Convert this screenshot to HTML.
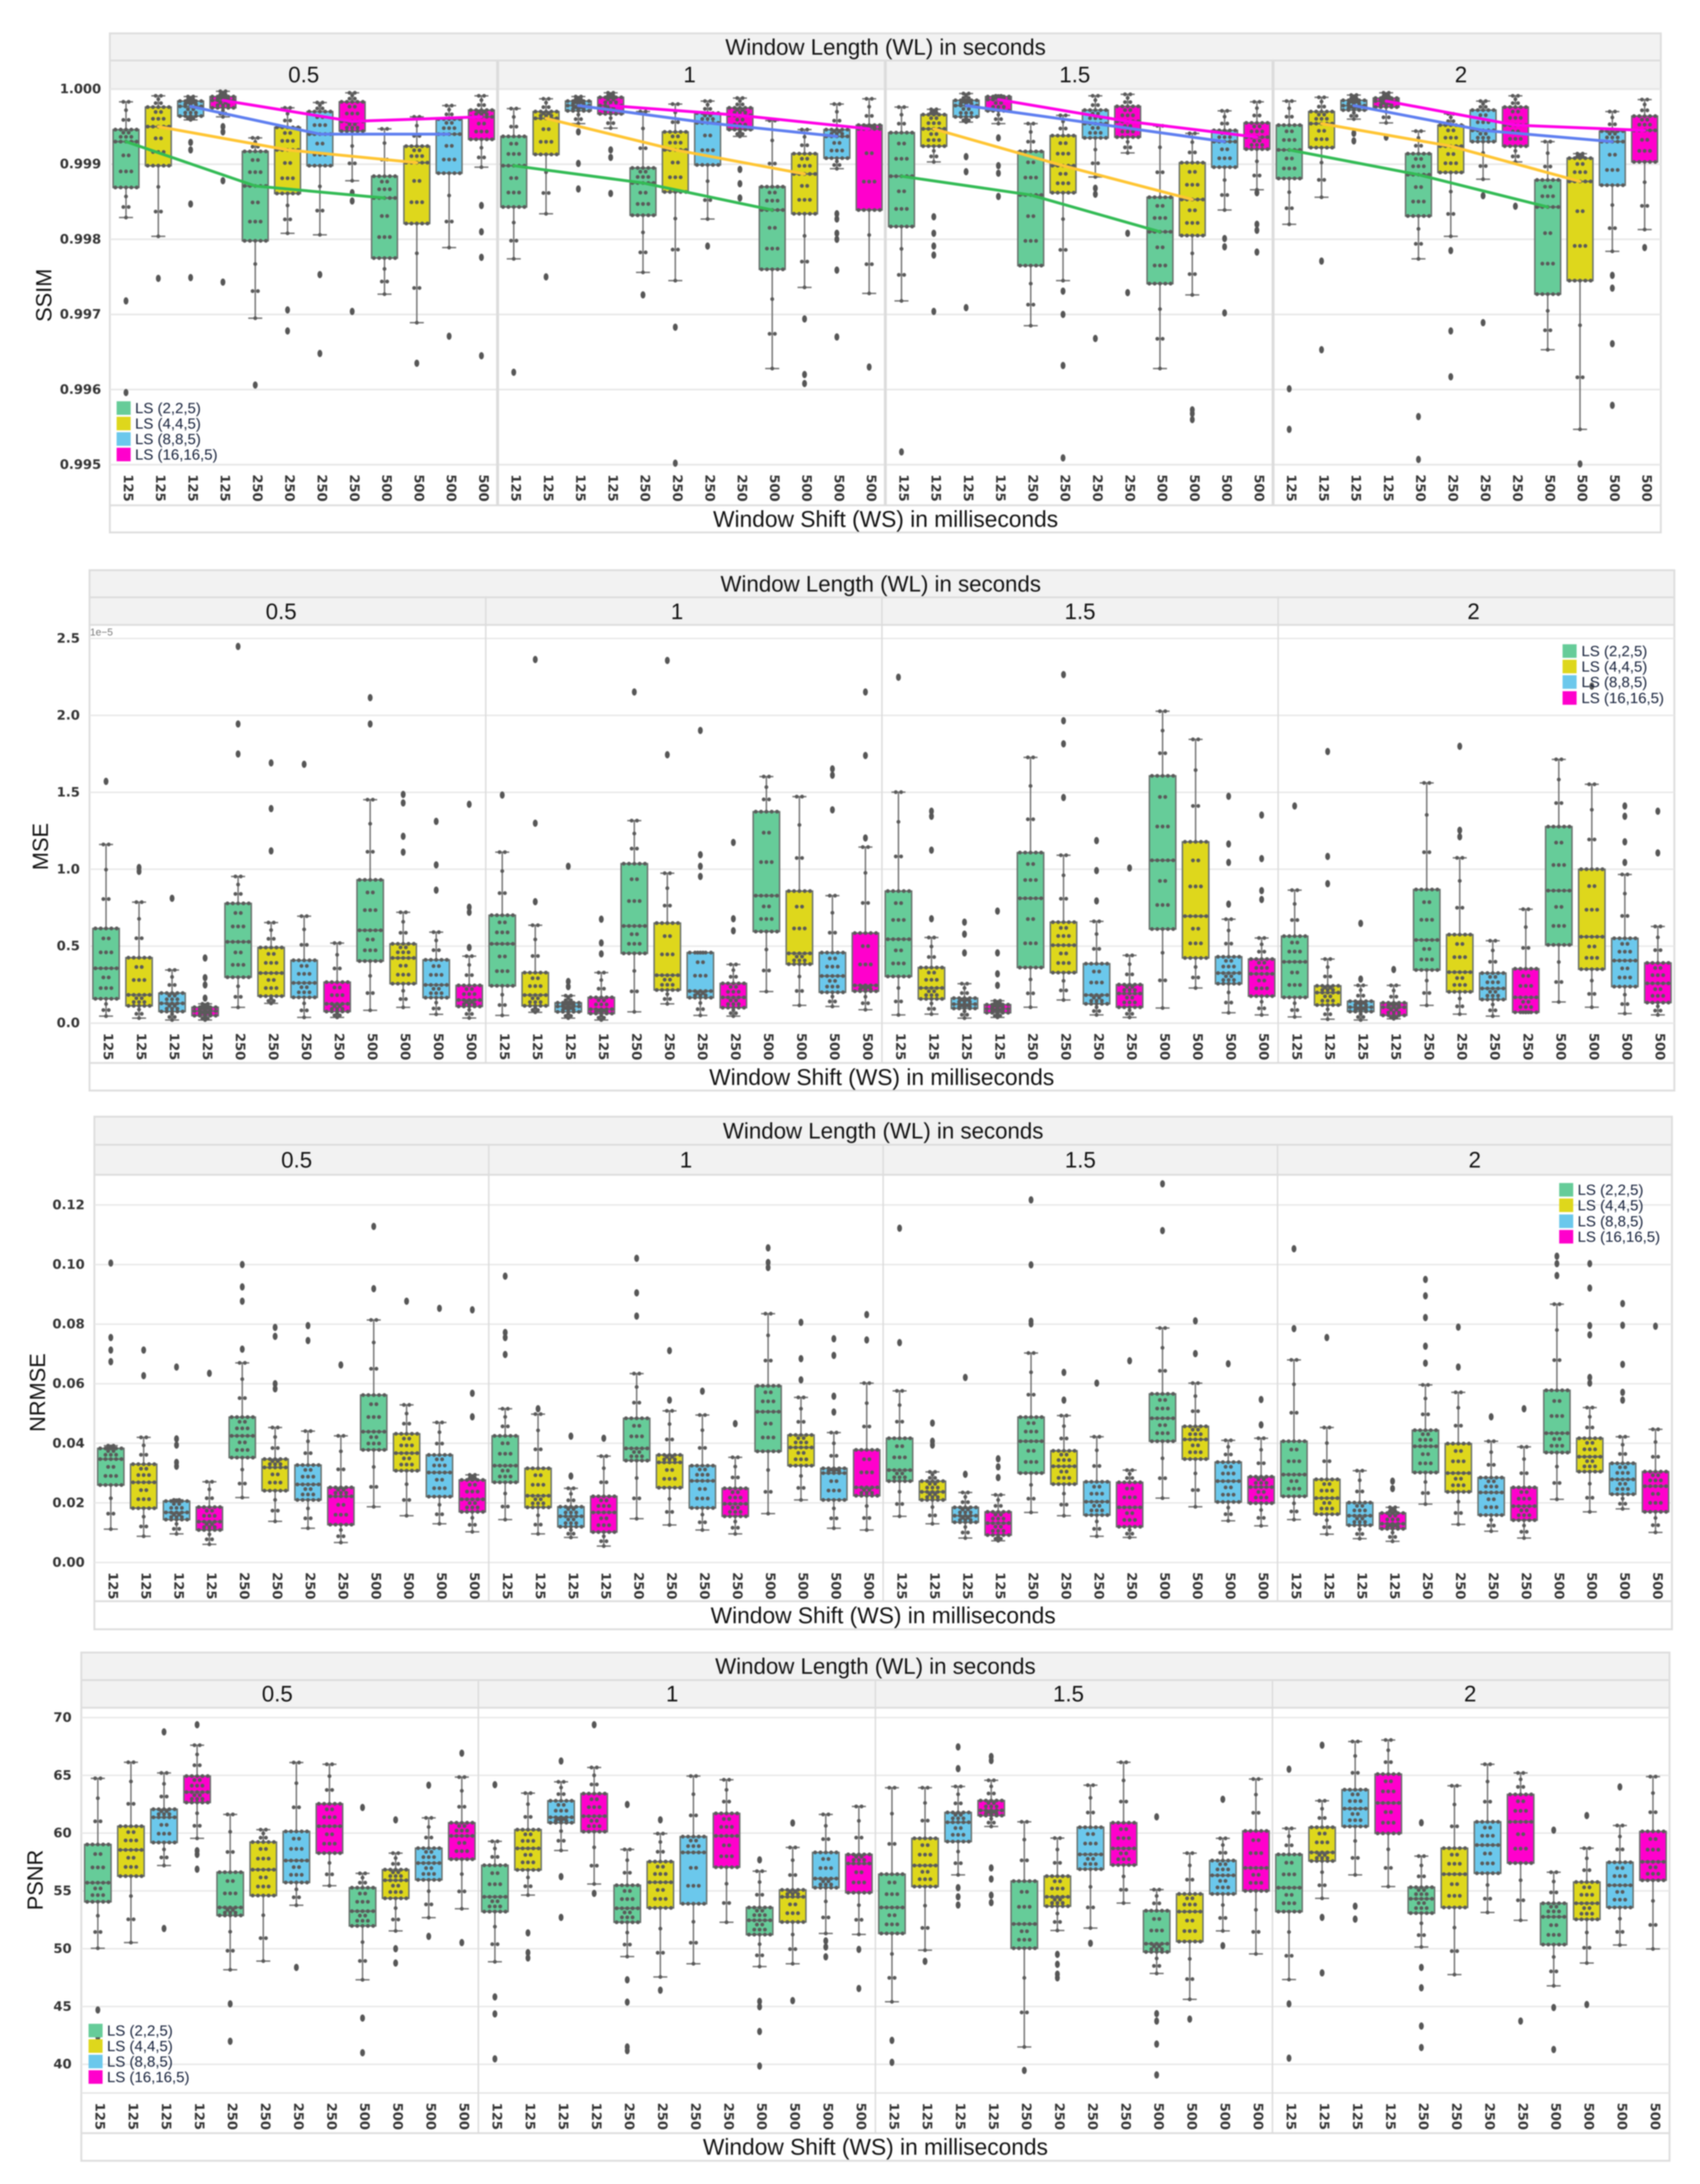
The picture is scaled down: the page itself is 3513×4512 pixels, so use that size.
<!DOCTYPE html>
<html lang="en">
<head>
<meta charset="utf-8">
<title>SSIM, MSE, NRMSE and PSNR box plots by window length and window shift</title>
<style>
html,body{margin:0;padding:0;background:#fff;}
#figure{display:block;width:3513px;height:4512px;filter:blur(1.3px);}
.strip{font:46px "Liberation Sans",sans-serif;fill:#111;text-anchor:middle;dominant-baseline:central;}
.shift{font:47px "Liberation Sans",sans-serif;fill:#111;text-anchor:middle;dominant-baseline:central;}
.ytitle{font:45px "Liberation Sans",sans-serif;fill:#111;text-anchor:middle;}
.legend{font:31px "Liberation Sans",sans-serif;fill:#15203a;dominant-baseline:central;}
.tick{font:bold 27px "DejaVu Sans",sans-serif;fill:#333;}
</style>
</head>
<body>
<svg id="figure" xmlns="http://www.w3.org/2000/svg" width="3513" height="4512" viewBox="0 0 3513 4512">
<rect x="0" y="0" width="3513" height="4512" fill="#fff"/>

<g id="ssim-plot"></g>
<g>
<text class="strip" x="1830" y="97">Window Length (WL) in seconds</text>
<text class="strip" x="627.6" y="154">0.5</text>
<text class="strip" x="1425" y="154">1</text>
<text class="strip" x="2221" y="154">1.5</text>
<text class="strip" x="3019" y="154">2</text>
<text class="shift" x="1830" y="1072">Window Shift (WS) in milliseconds</text>
<text class="ytitle" transform="translate(106,610) rotate(-90)">SSIM</text>
<g>
<rect x="241" y="829" width="29" height="28" fill="#66CC99"/><text class="legend" x="279" y="843">LS (2,2,5)</text>
<rect x="241" y="861" width="29" height="28" fill="#DED71C"/><text class="legend" x="279" y="875">LS (4,4,5)</text>
<rect x="241" y="893" width="29" height="28" fill="#6BC8EC"/><text class="legend" x="279" y="907">LS (8,8,5)</text>
<rect x="241" y="925" width="29" height="28" fill="#FF00CC"/><text class="legend" x="279" y="939">LS (16,16,5)</text>
</g>
</g>

<g id="mse-plot"></g>
<g>
<text class="strip" x="1820" y="1206">Window Length (WL) in seconds</text>
<text class="strip" x="581" y="1263">0.5</text>
<text class="strip" x="1399" y="1263">1</text>
<text class="strip" x="2231.9" y="1263">1.5</text>
<text class="strip" x="3045" y="1263">2</text>
<text class="shift" x="1822" y="2225">Window Shift (WS) in milliseconds</text>
<text class="ytitle" transform="translate(99,1749) rotate(-90)">MSE</text>
<text x="186" y="1313" font-family="Liberation Sans, sans-serif" font-size="21" fill="#777">1e−5</text>
<g>
<rect x="3229" y="1331" width="29" height="28" fill="#66CC99"/><text class="legend" x="3268" y="1345">LS (2,2,5)</text>
<rect x="3229" y="1363" width="29" height="28" fill="#DED71C"/><text class="legend" x="3268" y="1377">LS (4,4,5)</text>
<rect x="3229" y="1395" width="29" height="28" fill="#6BC8EC"/><text class="legend" x="3268" y="1409">LS (8,8,5)</text>
<rect x="3229" y="1428" width="29" height="28" fill="#FF00CC"/><text class="legend" x="3268" y="1442">LS (16,16,5)</text>
</g>
</g>

<g id="nrmse-plot"></g>
<g>
<text class="strip" x="1825" y="2336">Window Length (WL) in seconds</text>
<text class="strip" x="613" y="2396">0.5</text>
<text class="strip" x="1417.5" y="2396">1</text>
<text class="strip" x="2232.5" y="2396">1.5</text>
<text class="strip" x="3047.5" y="2396">2</text>
<text class="shift" x="1825" y="3337">Window Shift (WS) in milliseconds</text>
<text class="ytitle" transform="translate(93,2877) rotate(-90)">NRMSE</text>
<g>
<rect x="3222" y="2444" width="29" height="28" fill="#66CC99"/><text class="legend" x="3260" y="2458">LS (2,2,5)</text>
<rect x="3222" y="2476" width="29" height="28" fill="#DED71C"/><text class="legend" x="3260" y="2490">LS (4,4,5)</text>
<rect x="3222" y="2509" width="29" height="28" fill="#6BC8EC"/><text class="legend" x="3260" y="2523">LS (8,8,5)</text>
<rect x="3222" y="2541" width="29" height="28" fill="#FF00CC"/><text class="legend" x="3260" y="2555">LS (16,16,5)</text>
</g>
</g>

<g id="psnr-plot"></g>
<g>
<text class="strip" x="1809" y="3442">Window Length (WL) in seconds</text>
<text class="strip" x="573" y="3499">0.5</text>
<text class="strip" x="1389" y="3499">1</text>
<text class="strip" x="2208" y="3499">1.5</text>
<text class="strip" x="3038" y="3499">2</text>
<text class="shift" x="1809" y="4435">Window Shift (WS) in milliseconds</text>
<text class="ytitle" transform="translate(88,3884) rotate(-90)">PSNR</text>
<g>
<rect x="183" y="4181" width="29" height="28" fill="#66CC99"/><text class="legend" x="221" y="4195">LS (2,2,5)</text>
<rect x="183" y="4213" width="29" height="28" fill="#DED71C"/><text class="legend" x="221" y="4227">LS (4,4,5)</text>
<rect x="183" y="4245" width="29" height="28" fill="#6BC8EC"/><text class="legend" x="221" y="4259">LS (8,8,5)</text>
<rect x="183" y="4277" width="29" height="28" fill="#FF00CC"/><text class="legend" x="221" y="4291">LS (16,16,5)</text>
</g>
</g>
</svg>

<script>
// Each row: low whisker, Q1, median, Q3, high whisker, then any outliers.
const wsCategories = [125,125,125,125,250,250,250,250,500,500,500,500];
const lsCategories = ['LS (2,2,5)','LS (4,4,5)','LS (8,8,5)','LS (16,16,5)'];

const ssimTickValues = [1,0.999,0.998,0.997,0.996,0.995];
const ssimTickLabels = ['1.000','0.999','0.998','0.997','0.996','0.995'];
const ssimWl05 = [
[.99829,.99869,.99930,.99946,.99983,.99718,.99596],
[.99804,.99898,.99950,.99976,.99991,.99748],
[.99959,.99964,.99977,.99984,.99990,.99929,.99919,.99847,.99749],
[.99963,.99975,.99985,.99990,.99997,.99950,.99943,.99878,.99743],
[.99695,.99798,.99871,.99917,.99935,.99606],
[.99808,.99861,.99919,.99949,.99975,.99706,.99678],
[.99806,.99898,.99940,.99970,.99982,.99753,.99648],
[.99878,.99944,.99957,.99983,.99995,.99862,.99851,.99704],
[.99727,.99775,.99855,.99884,.99947],
[.99689,.99821,.99902,.99924,.99963,.99635],
[.99789,.99888,.99940,.99960,.99978,.99671],
[.99896,.99933,.99963,.99972,.99991,.99845,.99810,.99776,.99645]];
const ssimWl1 = [
[.99774,.99843,.99898,.99937,.99974,.99623],
[.99834,.99913,.99961,.99970,.99987,.99750],
[.99954,.99971,.99978,.99984,.99990,.99943,.99901,.99867],
[.99948,.99967,.99978,.99989,.99995,.99919,.99909,.99861],
[.99756,.99832,.99875,.99895,.99970,.99726],
[.99745,.99863,.99919,.99943,.99980,.99683,.99502],
[.99827,.99899,.99955,.99968,.99984,.99791],
[.99937,.99946,.99965,.99975,.99988,.99893,.99874,.99855],
[.99628,.99760,.99839,.99870,.99958],
[.99736,.99834,.99887,.99914,.99946,.99694,.99620,.99608],
[.99894,.99908,.99937,.99946,.99980,.99834,.99827,.99808,.99800,.99759,.99670],
[.99728,.99839,.99947,.99952,.99987,.99630]];
const ssimWl15 = [
[.99718,.99817,.99884,.99942,.99976,.99517],
[.99903,.99924,.99947,.99966,.99973,.99830,.99808,.99791,.99779,.99704],
[.99956,.99963,.99978,.99985,.99994,.99910,.99890,.99709],
[.99954,.99971,.99986,.99990,.99991,.99935,.99898,.99888,.99857],
[.99685,.99765,.99859,.99917,.99954],
[.99745,.99862,.99898,.99938,.99965,.99731,.99700,.99632,.99509],
[.99883,.99935,.99954,.99972,.99991,.99868,.99860,.99668],
[.99915,.99936,.99957,.99977,.99993,.99808,.99729],
[.99628,.99741,.99810,.99856,.99951],
[.99726,.99805,.99853,.99902,.99941,.99573,.99568,.99560],
[.99839,.99896,.99930,.99945,.99971,.99801,.99790,.99702],
[.99866,.99920,.99936,.99955,.99983,.99862,.99820,.99812,.99783]];
const ssimWl2 = [
[.99820,.99881,.99919,.99952,.99984,.99601,.99547],
[.99856,.99922,.99954,.99970,.99989,.99771,.99653],
[.99960,.99972,.99978,.99985,.99992,.99941,.99931],
[.99955,.99976,.99984,.99988,.99995,.99936],
[.99774,.99831,.99886,.99914,.99944,.99564,.99507],
[.99804,.99889,.99924,.99952,.99967,.99785,.99678,.99617],
[.99880,.99930,.99945,.99972,.99984,.99858,.99689],
[.99903,.99924,.99952,.99976,.99991,.99844],
[.99653,.99727,.99843,.99879,.99930],
[.99547,.99745,.99877,.99908,.99914,.99501],
[.99784,.99872,.99930,.99944,.99970,.99752,.99735,.99661,.99579],
[.99813,.99903,.99945,.99964,.99986,.99789]];

const mseTickValues = [0,0.5,1,1.5,2,2.5];
const mseTickLabels = ['0.0','0.5','1.0','1.5','2.0','2.5'];
const mseWl05 = [
[.045,.158,.356,.615,1.161,1.571],
[.032,.112,.183,.425,.786,1.011,.986],
[.020,.075,.128,.195,.345,.811],
[.020,.048,.078,.103,.125,.423,.295,.248,.162],
[.102,.298,.528,.778,.953,2.448,1.944,1.749],
[.128,.175,.325,.491,.653,1.691,1.394,1.119],
[.037,.167,.261,.408,.695,1.682],
[.037,.075,.125,.266,.520],
[.083,.403,.603,.931,1.452,2.115,1.944],
[.102,.256,.423,.515,.720,1.486,1.431,1.214,1.111],
[.057,.165,.248,.411,.591,1.311,1.028,.864],
[.033,.108,.150,.245,.435,1.422,.753,.720,.491]];
const mseWl1 = [
[.050,.242,.515,.701,1.111,1.482],
[.070,.112,.182,.328,.636,2.363,1.299,.789],
[.032,.073,.108,.132,.178,1.019,.270,.237],
[.020,.062,.090,.167,.328,.675,.521,.450],
[.073,.453,.631,1.036,1.316,2.152],
[.125,.215,.311,.650,.974,2.357,1.744],
[.050,.165,.208,.458,.458,1.902,1.094,1.019,.953],
[.045,.100,.167,.258,.381,1.174,.678,.600],
[.205,.595,.828,1.374,1.602],
[.115,.383,.453,.858,1.472],
[.108,.200,.306,.458,.828,1.652,1.611,1.386],
[.087,.207,.245,.585,1.144,2.152,1.739,1.203]];
const mseWl15 = [
[.053,.303,.545,.858,1.501,2.248],
[.058,.157,.228,.361,.556,1.377,1.344,1.124,.678],
[.032,.095,.123,.162,.256,.656,.578,.456],
[.037,.067,.092,.120,.145,.728,.456,.320,.245],
[.103,.361,.811,1.108,1.727],
[.150,.328,.506,.656,1.091,2.265,1.965,1.815,1.466],
[.053,.125,.182,.386,.661,1.186,.991,.794],
[.037,.103,.192,.250,.440,1.008],
[.098,.611,1.058,1.607,2.027],
[.228,.423,.695,1.178,1.844],
[.067,.256,.325,.431,.675,1.474,1.164,1.044,.773],
[.053,.175,.320,.416,.553,1.352,1.069,.861,.803]];
const mseWl2 = [
[.040,.167,.398,.565,.864,1.411],
[.025,.117,.198,.242,.416,1.765,1.083,.906],
[.020,.075,.103,.142,.245,.648,.286],
[.028,.050,.103,.132,.245,.348],
[.115,.345,.540,.868,1.561],
[.058,.203,.331,.575,1.074,1.799,1.253,1.211],
[.045,.153,.225,.325,.535],
[.070,.070,.167,.353,.740],
[.137,.508,.861,1.277,1.714],
[.103,.350,.561,1.000,1.552,2.190],
[.062,.237,.406,.551,.966,1.411,1.344,1.178,1.044],
[.053,.133,.258,.391,.628,1.377,1.106]];

const nrmseTickValues = [0,0.02,0.04,0.06,0.08,0.1,0.12];
const nrmseTickLabels = ['0.00','0.02','0.04','0.06','0.08','0.10','0.12'];
const nrmseWl05 = [
[.0112,.0260,.0347,.0383,.0392,.1005,.0755,.0713,.0674],
[.0088,.0182,.0269,.0330,.0420,.0713,.0627],
[.0096,.0144,.0168,.0206,.0210,.0656,.0415,.0394,.0336,.0323],
[.0061,.0109,.0137,.0186,.0271,.0635],
[.0218,.0352,.0425,.0488,.0670,.1000,.0925,.0877,.0716],
[.0138,.0241,.0319,.0347,.0453,.0789,.0759,.0600,.0583],
[.0115,.0210,.0262,.0327,.0441,.0795,.0745],
[.0067,.0127,.0222,.0252,.0425,.0663],
[.0187,.0378,.0439,.0562,.0814,.1128,.0919],
[.0157,.0308,.0367,.0432,.0529,.0877],
[.0130,.0221,.0302,.0361,.0470,.0853],
[.0103,.0170,.0212,.0277,.0294,.0848,.0568,.0489]];
const nrmseWl1 = [
[.0144,.0269,.0325,.0425,.0516,.0961,.0772,.0755,.0698],
[.0096,.0185,.0224,.0316,.0498,.0516],
[.0084,.0120,.0155,.0187,.0249,.0424,.0290],
[.0055,.0102,.0168,.0222,.0357,.0417],
[.0147,.0342,.0383,.0484,.0634,.1021,.0905,.0827],
[.0126,.0251,.0336,.0361,.0509,.0711,.0545],
[.0109,.0183,.0274,.0325,.0495,.0575],
[.0096,.0155,.0197,.0249,.0353,.0466],
[.0164,.0373,.0506,.0593,.0835,.1056,.1007,.0990],
[.0210,.0325,.0386,.0428,.0554,.0806,.0684,.0613],
[.0115,.0210,.0300,.0316,.0436,.0751,.0695,.0558,.0505],
[.0109,.0224,.0252,.0378,.0602,.0832,.0747]];
const nrmseWl15 = [
[.0155,.0273,.0310,.0417,.0576,.1122,.0738],
[.0130,.0210,.0237,.0273,.0304,.0468,.0407,.0394],
[.0082,.0135,.0157,.0185,.0235,.0621,.0296],
[.0073,.0092,.0132,.0170,.0227,.0348,.0321,.0285],
[.0168,.0300,.0407,.0488,.0703,.1217,.0999,.0810,.0801],
[.0157,.0263,.0323,.0375,.0493,.0638,.0545],
[.0088,.0159,.0204,.0271,.0422,.0602],
[.0084,.0120,.0185,.0269,.0310,.0677],
[.0216,.0407,.0484,.0566,.0787,.1271,.1114],
[.0187,.0347,.0413,.0457,.0602,.0811,.0701],
[.0140,.0203,.0273,.0337,.0410,.0667],
[.0123,.0199,.0253,.0288,.0417,.0547,.0462]];
const nrmseWl2 = [
[.0144,.0222,.0295,.0407,.0680,.1053,.0785],
[.0095,.0162,.0216,.0279,.0453,.0755],
[.0080,.0125,.0157,.0201,.0308],
[.0071,.0113,.0130,.0166,.0185,.0273,.0248],
[.0196,.0302,.0390,.0444,.0596,.0950,.0895,.0822,.0726,.0669],
[.0128,.0237,.0300,.0399,.0571,.0790,.0656],
[.0105,.0159,.0235,.0285,.0407,.0489],
[.0082,.0142,.0189,.0252,.0388,.0516],
[.0212,.0369,.0434,.0578,.0867,.1028,.1003,.0963],
[.0170,.0305,.0355,.0417,.0520,.1003,.0921,.0795,.0764,.0621,.0602],
[.0180,.0229,.0279,.0333,.0422,.0869,.0796,.0665,.0571,.0545],
[.0101,.0170,.0256,.0305,.0447,.0793]];

const psnrTickValues = [40,45,50,55,60,65,70];
const psnrTickLabels = ['40','45','50','55','60','65','70'];
const psnrWl05 = [
[50.04,54.06,55.71,59.02,64.74,44.70,42.35],
[50.53,56.28,58.55,60.60,66.13],
[57.20,59.19,61.37,62.07,65.21,68.76,51.75],
[59.55,62.65,63.55,64.94,67.61,69.38,58.48,58.16,56.88],
[48.18,52.88,53.57,56.62,61.62,45.23,41.99],
[48.93,54.60,56.84,59.23,60.30],
[53.76,55.73,57.63,60.15,66.11,48.38],
[55.45,58.27,60.60,62.54,65.96],
[47.31,51.97,53.25,55.28,56.52,62.22,44.00,41.00],
[51.54,54.36,55.92,56.84,58.27,61.15,50.00,48.76],
[52.69,55.96,57.41,58.70,61.32,64.15,51.07],
[53.46,57.74,59.76,60.90,64.85,66.92,50.53]];
const psnrWl1 = [
[48.87,53.21,54.49,57.22,59.29,64.19,45.83,44.36,40.47],
[54.64,56.82,58.68,60.30,63.46,51.37,49.66,49.20],
[58.50,60.90,61.37,62.80,64.44,66.24,56.24,52.71],
[55.60,60.13,61.47,63.42,65.68,69.38,54.79],
[49.32,52.29,53.50,55.49,58.59,62.48,47.31,45.38,41.50,41.18],
[47.56,53.53,55.75,57.54,59.96,61.15,46.41],
[48.70,53.89,58.33,59.70,64.94],
[52.29,57.05,59.76,61.71,64.62],
[48.46,51.22,52.46,53.57,56.71,57.69,45.44,44.98,42.84,39.85],
[48.70,52.31,54.49,55.09,58.76,60.88,45.51],
[51.32,55.28,56.07,58.33,61.62,50.68,50.15,49.30],
[51.24,54.85,57.37,58.16,62.31,49.94,46.56]];
const psnrWl15 = [
[45.41,51.32,53.57,56.45,63.93,42.07,40.17],
[49.87,55.38,57.20,59.55,63.93,48.91],
[56.39,59.27,60.94,61.79,64.04,67.46,65.58,55.28,54.49,53.78],
[60.58,61.52,61.97,62.82,64.57,66.63,66.28,56.99,56.03,54.63,53.99],
[41.50,50.04,52.14,55.85,60.98,39.47],
[51.58,53.68,54.49,56.28,59.57,49.51,48.65,47.80,47.48],
[51.79,56.88,58.16,60.51,64.15,50.47],
[53.95,57.24,58.68,60.90,66.13],
[47.86,49.72,50.43,53.29,55.11,61.41,44.38,43.74,41.75,39.08],
[45.62,50.62,53.21,54.74,58.27,43.91],
[51.54,54.74,56.35,57.63,59.55,62.93,50.26],
[49.55,55.00,56.99,60.19,64.68]];
const psnrWl2 = [
[47.33,53.21,55.28,58.16,60.41,65.53,45.23,40.53],
[54.36,57.59,58.33,60.51,62.80,67.61,52.71,47.91],
[56.39,60.58,62.12,63.76,67.93,53.68,52.56],
[55.38,59.98,62.61,65.11,68.06],
[50.15,53.08,54.32,55.32,58.01,60.90,48.38,46.62,43.31,41.45],
[47.76,53.57,56.45,58.70,64.10],
[53.14,56.53,58.97,60.98,65.96],
[52.46,57.41,60.98,63.35,65.21,43.74],
[46.79,50.36,52.76,53.93,56.62,60.26,44.91,41.28],
[48.76,52.54,53.93,55.77,58.70,61.52,45.17],
[50.32,53.57,55.49,57.48,60.66,64.00],
[49.98,55.92,57.52,60.15,64.89]];

const NS = 'http://www.w3.org/2000/svg';
const boxColors = ['#66CC99','#DED71C','#6BC8EC','#FF00CC'];
const lineColors = ['#33BB55','#FFC533','#5F7FF0','#FF00E6'];
const charts = [
 {id:'ssim', panels:[ssimWl05,ssimWl1,ssimWl15,ssimWl2], tickValues:ssimTickValues, tickLabels:ssimTickLabels,
  L:227,R:3432,T:69,S1:125,S2:184,B:960,K:1044,E:1100, v0:1,y0:184,v1:0.995,y1:960, labelGap:18, sepW:6, gridW:3.5, lines:true},
 {id:'mse', panels:[mseWl05,mseWl1,mseWl15,mseWl2], tickValues:mseTickValues, tickLabels:mseTickLabels,
  L:185,R:3460,T:1178,S1:1234,S2:1291,B:2114,K:2196,E:2253, v0:2.5,y0:1319,v1:0,y1:2113.6, labelGap:20, sepW:3, gridW:3, lines:false},
 {id:'nrmse', panels:[nrmseWl05,nrmseWl1,nrmseWl15,nrmseWl2], tickValues:nrmseTickValues, tickLabels:nrmseTickLabels,
  L:195,R:3455,T:2307,S1:2365,S2:2427,B:3228,K:3308,E:3366, v0:0.12,y0:2489.4,v1:0,y1:3228, labelGap:20, sepW:3, gridW:3, lines:false},
 {id:'psnr', panels:[psnrWl05,psnrWl1,psnrWl15,psnrWl2], tickValues:psnrTickValues, tickLabels:psnrTickLabels,
  L:168,R:3450,T:3414,S1:3471,S2:3528,B:4324,K:4407,E:4464, v0:70,y0:3548.4,v1:40,y1:4264.7, labelGap:20, sepW:3, gridW:3, lines:false}
];

function shape(tag, attrs){
  const el = document.createElementNS(NS, tag);
  for (const k in attrs) el.setAttribute(k, attrs[k]);
  return el;
}
function yScale(c, v){ return c.y0 + (v - c.v0) * (c.y1 - c.y0) / (c.v1 - c.v0); }
function panelWidth(c){ return (c.R - c.L) / 4; }
function xScale(c, panel, cat){ return c.L + panelWidth(c) * (panel + (cat + 0.5) / 12); }

function drawFrame(c, g){
  const stripTop = shape('rect',{x:c.L,y:c.T,width:c.R-c.L,height:c.S1-c.T,fill:'#f2f2f2',stroke:'#dedede','stroke-width':4});
  
  
  g.appendChild(stripTop);
  const stripPanels = shape('rect',{x:c.L,y:c.S1,width:c.R-c.L,height:c.S2-c.S1,fill:'#f2f2f2',stroke:'#dedede','stroke-width':4});
  
  
  g.appendChild(stripPanels);
  const frame = shape('rect',{x:c.L,y:c.S2,width:c.R-c.L,height:c.E-c.S2,fill:'#fff',stroke:'#dedede','stroke-width':4});
  
  
  g.appendChild(frame);
  const axisLine = shape('line',{x1:c.L,x2:c.R,y1:c.B,y2:c.B,stroke:'#e4e4e4','stroke-width':c.gridW});
  
  
  g.appendChild(axisLine);
  const tickEnd = shape('line',{x1:c.L,x2:c.R,y1:c.K,y2:c.K,stroke:'#dedede','stroke-width':4});
  
  
  g.appendChild(tickEnd);
  c.tickValues.forEach(function(v, i){
    const y = yScale(c, v);
    const grid = shape('line',{x1:c.L,x2:c.R,y1:y,y2:y,stroke:'#e8e8e8','stroke-width':c.gridW});
    
    
    g.appendChild(grid);
    const label = shape('text',{x:c.L-c.labelGap,y:y,'text-anchor':'end','dominant-baseline':'central','class':'tick'});
    
    
    label.textContent = c.tickLabels[i];
    g.appendChild(label);
  });
  for (let p = 1; p < 4; p++){
    const x = c.L + panelWidth(c) * p;
    const sep = shape('line',{x1:x,x2:x,y1:c.S1,y2:c.K,stroke:'#dcdcdc','stroke-width':c.sepW});
    
    
    g.appendChild(sep);
  }
}

function swarmLevels(s){
  // Schematic swarm placed from each box's own statistics; the outliers are the read points.
  return [[s[0],1],[s[0]+(s[1]-s[0])*.35,2],[s[0]+(s[1]-s[0])*.7,1],[s[1],5],[s[1]+(s[2]-s[1])*.35,3],[s[1]+(s[2]-s[1])*.7,2],
          [s[2],5],[s[2]+(s[3]-s[2])*.4,3],[s[2]+(s[3]-s[2])*.75,2],[s[3],5],[s[3]+(s[4]-s[3])*.35,2],[s[3]+(s[4]-s[3])*.7,1],[s[4],2]];
}

function drawBox(c, g, panel, cat, row){
  const x = xScale(c, panel, cat);
  const w = panelWidth(c) / 12 * 0.8;
  const color = boxColors[cat % 4];
  const group = shape('g',{});
  
  
  const yLow = yScale(c, row[0]), yQ1 = yScale(c, row[1]), yMed = yScale(c, row[2]), yQ3 = yScale(c, row[3]), yHigh = yScale(c, row[4]);
  const whisker = shape('line',{x1:x,x2:x,y1:yLow,y2:yHigh,stroke:'#747474','stroke-width':3});
  
  
  group.appendChild(whisker);
  const capLow = shape('line',{x1:x-14.5,x2:x+14.5,y1:yLow,y2:yLow,stroke:'#747474','stroke-width':3});
  
  
  group.appendChild(capLow);
  const capHigh = shape('line',{x1:x-14.5,x2:x+14.5,y1:yHigh,y2:yHigh,stroke:'#747474','stroke-width':3});
  
  
  group.appendChild(capHigh);
  const body = shape('rect',{x:x-w/2,y:yQ3,width:w,height:yQ1-yQ3,fill:color,stroke:'#68706c','stroke-width':3});
  
  
  group.appendChild(body);
  const median = shape('line',{x1:x-w/2,x2:x+w/2,y1:yMed,y2:yMed,stroke:'#68706c','stroke-width':3.5});
  
  
  group.appendChild(median);
  swarmLevels(row).forEach(function(level){
    for (let j = 0; j < level[1]; j++){
      const dot = shape('circle',{cx:x+(j-(level[1]-1)/2)*11,cy:yScale(c, level[0]),r:4,fill:'#5a5a5a'});
      
      
      group.appendChild(dot);
    }
  });
  row.slice(5).forEach(function(v){
    const outlier = shape('ellipse',{cx:x,cy:yScale(c, v),rx:5,ry:7.5,fill:'#565656'});
    
    
    group.appendChild(outlier);
  });
  g.appendChild(group);
  const tx = x + 4, ty = c.B + 20;
  const tick = shape('text',{x:tx,y:ty,transform:'rotate(90 '+tx+' '+ty+')','dominant-baseline':'central','class':'tick'});
  
  
  tick.textContent = wsCategories[cat];
  g.appendChild(tick);
}

function drawTrendLines(c, g, panel){
  lsCategories.forEach(function(ls, s){
    const pts = [0,4,8].map(function(offset){
      const cat = offset + s;
      return xScale(c, panel, cat) + ',' + yScale(c, c.panels[panel][cat][2]);
    }).join(' ');
    const line = shape('polyline',{points:pts,fill:'none',stroke:lineColors[s],'stroke-width':6,'stroke-linejoin':'round','stroke-linecap':'round'});
    
    
    g.appendChild(line);
  });
}

charts.forEach(function(c){
  const g = document.getElementById(c.id + '-plot');
  drawFrame(c, g);
  c.panels.forEach(function(rows, panel){
    rows.forEach(function(row, cat){ drawBox(c, g, panel, cat, row); });
    if (c.lines) drawTrendLines(c, g, panel);
  });
});
</script>
</body>
</html>
